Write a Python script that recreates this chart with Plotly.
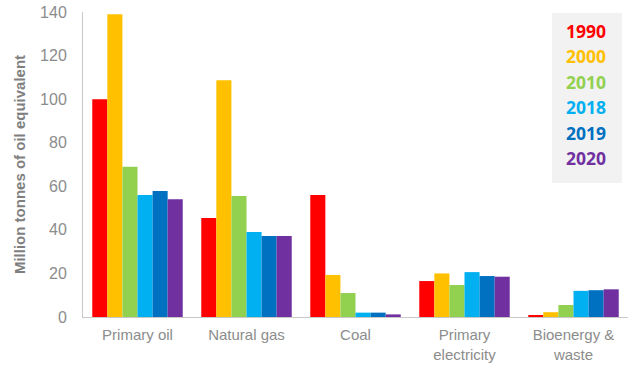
import plotly.graph_objects as go

categories = ["Primary oil", "Natural gas", "Coal", "Primary<br>electricity", "Bioenergy &<br>waste"]
years = ["1990", "2000", "2010", "2018", "2019", "2020"]
colors = ["#FF0000", "#FFC000", "#92D050", "#00B0F0", "#0070C0", "#7030A0"]
v1990 = [100, 45.4, 56, 16.5, 0.5]
v2000 = [139, 108.7, 19.3, 20, 2.2]
v2010 = [69, 55.5, 11, 14.7, 5.5]
v2018 = [56, 39, 2, 20.6, 12]
v2019 = [57.8, 37.2, 2, 18.8, 12.3]
v2020 = [54, 37.2, 1.2, 18.5, 12.7]
series = [v1990, v2000, v2010, v2018, v2019, v2020]

fig = go.Figure()
for yr, col, vals in zip(years, colors, series):
    fig.add_trace(go.Bar(x=categories, y=vals, name=yr, marker_color=col,
                         marker_line_width=0, showlegend=False))

# legend box
fig.add_shape(type="rect", xref="paper", yref="paper",
              x0=(552-83)/545, x1=(622-83)/545,
              y0=(317-183)/305, y1=(317-13)/305,
              fillcolor="#F2F2F2", line_width=0, layer="below")
for i, (yr, col) in enumerate(zip(years, colors)):
    ypix = 31 + i * 25.4
    fig.add_annotation(xref="paper", yref="paper", x=(586-83)/545, y=(317-ypix)/305,
                       text="<b>" + yr + "</b>", showarrow=False,
                       font=dict(family="Open Sans", size=17.5, color=col),
                       xanchor="center", yanchor="middle")

fig.update_layout(
    width=628, height=366,
    margin=dict(l=83, r=0, t=12, b=49),
    paper_bgcolor="white", plot_bgcolor="white",
    barmode="group", bargap=0.17, bargroupgap=0,
    font=dict(family="Liberation Sans", color="#8C8C8C", size=15),
    xaxis=dict(showline=True, linecolor="#C8C8C8", linewidth=1, ticks="",
               tickfont=dict(size=15, color="#8C8C8C"), showgrid=False,
               ticklabelstandoff=4),
    yaxis=dict(range=[0, 140], dtick=20, showline=True, linecolor="#C8C8C8",
               linewidth=1, showgrid=False, zeroline=False, ticks="",
               tickfont=dict(size=16, color="#8C8C8C"), ticklabelstandoff=12,
               title=dict(text="<b>Million tonnes of oil equivalent</b>",
                          font=dict(size=15, color="#7F7F7F"), standoff=10)),
)

fig.write_html("out.html")
